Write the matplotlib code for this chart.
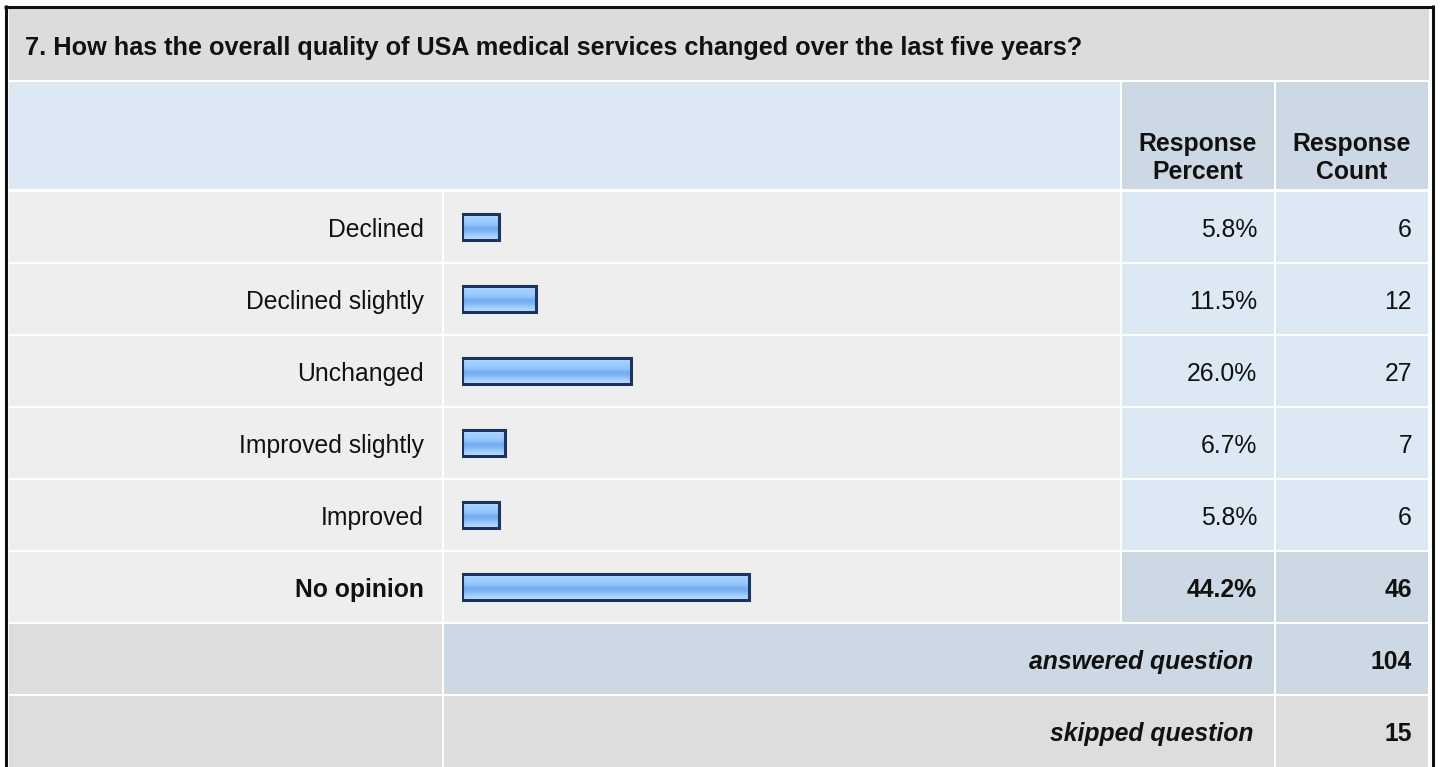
import numpy as np
import matplotlib
matplotlib.use("Agg")
import matplotlib.pyplot as plt
from matplotlib.patches import Rectangle

# ---------------- data ----------------
title = "7. How has the overall quality of USA medical services changed over the last five years?"
categories = ["Declined", "Declined slightly", "Unchanged", "Improved slightly", "Improved", "No opinion"]
percents = [5.8, 11.5, 26.0, 6.7, 5.8, 44.2]
counts = [6, 12, 27, 7, 6, 46]
answered = 104
skipped = 15
header_pct = "Response\nPercent"
header_cnt = "Response\nCount"

# ---------------- style ----------------
W, H = 1440, 767
FONT = "Liberation Sans"
FS = 17.8
FS_TITLE = 18.2
C_TITLE = "#dcdcdc"
C_HEAD = "#dde8f5"
C_HEADCOL = "#cdd8e5"
C_LABEL = "#eeeeee"
C_VAL = "#dde8f5"
C_SUM = "#cdd8e5"
C_FOOT = "#dddddd"
C_BORDER = "#1c355e"
C_TXT = "#111111"

fig = plt.figure(figsize=(W / 100, H / 100), dpi=100, facecolor="white")
ax = fig.add_axes([0, 0, 1, 1])
ax.set_xlim(0, W)
ax.set_ylim(H, 0)
ax.axis("off")


def cell(x0, x1, y0, y1, color):
    ax.add_patch(Rectangle((x0, y0), x1 - x0, y1 - y0, facecolor=color, edgecolor="none", zorder=1))


# column edges
LX = (9, 442)
BX = (444, 1120)
PX = (1122, 1274)
CX = (1276, 1428)

# title
cell(9, 1429, 9, 80, C_TITLE)
ax.text(25, 48, title, fontsize=FS_TITLE, fontweight="bold", family=FONT, va="center", ha="left", color=C_TXT, zorder=3)

# header
cell(9, 1120, 82, 189, C_HEAD)
cell(*PX, 82, 189, C_HEADCOL)
cell(*CX, 82, 189, C_HEADCOL)
ax.text((PX[0] + PX[1]) / 2, 158, header_pct, fontsize=FS, fontweight="bold", family=FONT,
        va="center", ha="center", linespacing=1.25, color=C_TXT, zorder=3)
ax.text((CX[0] + CX[1]) / 2, 158, header_cnt, fontsize=FS, fontweight="bold", family=FONT,
        va="center", ha="center", linespacing=1.25, color=C_TXT, zorder=3)

ROW0 = 192
ROWH = 72
imax = int(np.argmax(percents))
for i, (cat, p, c) in enumerate(zip(categories, percents, counts)):
    y0 = ROW0 + ROWH * i
    y1 = y0 + 70
    yc = (y0 + y1) / 2 + 3
    hi = i == imax
    cell(*LX, y0, y1, C_LABEL)
    cell(*BX, y0, y1, C_LABEL)
    cell(*PX, y0, y1, C_SUM if hi else C_VAL)
    cell(*CX, y0, y1, C_SUM if hi else C_VAL)
    fw = "bold" if hi else "normal"
    ax.text(424, yc, cat, fontsize=FS, fontweight=fw, family=FONT, va="center", ha="right", color=C_TXT, zorder=3)
    ax.text(1257, yc, f"{p:.1f}%", fontsize=FS, fontweight=fw, family=FONT, va="center", ha="right", color=C_TXT, zorder=3)
    ax.text(1412, yc, f"{c}", fontsize=FS, fontweight=fw, family=FONT, va="center", ha="right", color=C_TXT, zorder=3)

# answered / skipped rows
ya0 = ROW0 + ROWH * 6
cell(*LX, ya0, ya0 + 70, C_FOOT)
cell(BX[0], PX[1], ya0, ya0 + 70, C_SUM)
cell(*CX, ya0, ya0 + 70, C_SUM)
ax.text(1253, ya0 + 38, "answered question", fontsize=FS, fontweight="bold", fontstyle="italic", family=FONT,
        va="center", ha="right", color=C_TXT, zorder=3)
ax.text(1412, ya0 + 38, f"{answered}", fontsize=FS, fontweight="bold", family=FONT,
        va="center", ha="right", color=C_TXT, zorder=3)
ys0 = ROW0 + ROWH * 7
cell(*LX, ys0, H + 5, C_FOOT)
cell(BX[0], PX[1], ys0, H + 5, C_FOOT)
cell(*CX, ys0, H + 5, C_FOOT)
ax.text(1253, ys0 + 38, "skipped question", fontsize=FS, fontweight="bold", fontstyle="italic", family=FONT,
        va="center", ha="right", color=C_TXT, zorder=3)
ax.text(1412, ys0 + 38, f"{skipped}", fontsize=FS, fontweight="bold", family=FONT,
        va="center", ha="right", color=C_TXT, zorder=3)

# outer border
ax.plot([5.5, 5.5], [5, H + 5], color="#111111", lw=2.2, zorder=4, solid_capstyle="butt")
ax.plot([4, 1434], [6.5, 6.5], color="#111111", lw=2.2, zorder=4, solid_capstyle="butt")
ax.plot([1432.5, 1432.5], [5, H + 5], color="#111111", lw=2.2, zorder=4, solid_capstyle="butt")

# ---------------- bars (own axes with percent scale) ----------------
PXPP = 6.5  # pixels per percent
bx0 = 461.5
bax = fig.add_axes([bx0 / W, 1 - (ROW0 - 1 + ROWH * 6) / H, 100 * PXPP / W, ROWH * 6 / H])
bax.set_xlim(0, 100)
bax.set_ylim(len(categories) - 0.5, -0.5)
bax.axis("off")
bax.patch.set_alpha(0)

ypos = np.arange(len(categories))
bh = 26.5 / ROWH
bars = bax.barh(ypos, percents, height=bh, facecolor="none", edgecolor=C_BORDER, linewidth=2.2, zorder=3)

grad_cols = ["#c8e2ff", "#b4d8ff", "#9fccff", "#9ccbff", "#98c8fd", "#8ec0f8",
             "#78b0f0", "#76aef0", "#86bbf5", "#98c8fd", "#a6d2ff", "#b8dcff"]
rgb = np.array([matplotlib.colors.to_rgb(c) for c in grad_cols])
img = rgb[:, None, :]
for b in bars:
    x, y = b.get_x(), b.get_y()
    w, h = b.get_width(), b.get_height()
    im = bax.imshow(img, extent=(x, x + w, y + h, y), aspect="auto", interpolation="bilinear", zorder=2)
    im.set_clip_path(b)
bax.set_xlim(0, 100)
bax.set_ylim(len(categories) - 0.5, -0.5)

fig.savefig("out.png", dpi=100, facecolor="white")
